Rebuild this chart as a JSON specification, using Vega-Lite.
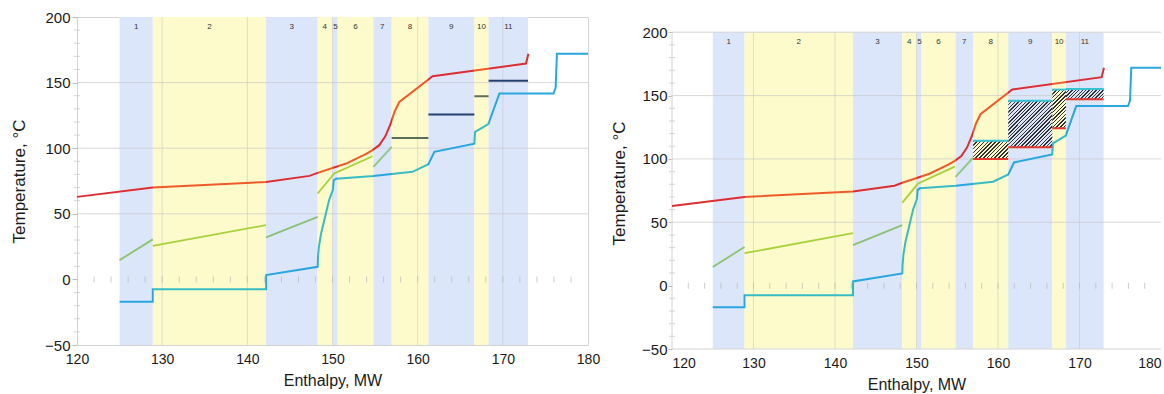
{
"$schema":"https://vega.github.io/schema/vega-lite/v6.json",
"padding":{"left":10,"top":9,"right":1,"bottom":1},
"spacing":9,
"config":{
 "font":"Liberation Sans",
 "view":{"stroke":"#d4d4d4","strokeWidth":1},
 "axis":{"labelFont":"Liberation Sans","titleFont":"Liberation Sans","labelColor":"#1a1a1a","titleColor":"#1a1a1a","titleFontWeight":"normal","domain":false,"grid":false,"tickColor":"#bdbdbd","labelOverlap":false},
 "axisX":{"labelFontSize":14,"titleFontSize":16,"tickSize":0,"labelPadding":7,"titlePadding":6},
 "axisY":{"labelFontSize":15,"titleFontSize":17,"labelPadding":2,"tickSize":5,"titlePadding":16}
},
"datasets":{
 "bands":[
  {"band":"1","x":125.0,"x2":128.9,"xm":126.95,"kind":"b"},
  {"band":"2","x":128.9,"x2":142.2,"xm":135.55,"kind":"y"},
  {"band":"3","x":142.2,"x2":148.25,"xm":145.2,"kind":"b"},
  {"band":"4","x":148.25,"x2":150.03,"xm":149.1,"kind":"y"},
  {"band":"5","x":150.03,"x2":150.6,"xm":150.35,"kind":"b"},
  {"band":"6","x":150.6,"x2":154.8,"xm":152.7,"kind":"y"},
  {"band":"7","x":154.8,"x2":156.95,"xm":155.85,"kind":"b"},
  {"band":"8","x":156.95,"x2":161.26,"xm":159.1,"kind":"y"},
  {"band":"9","x":161.26,"x2":166.66,"xm":163.95,"kind":"b"},
  {"band":"10","x":166.66,"x2":168.33,"xm":167.5,"kind":"y"},
  {"band":"11","x":168.33,"x2":172.96,"xm":170.65,"kind":"b"}
 ],
 "red":[
  {"i":0,"x":120,"t":62.9},{"i":1,"x":128.9,"t":70.0},{"i":2,"x":142.2,"t":74.3},{"i":3,"x":147.3,"t":78.9},
  {"i":4,"x":148.26,"t":81.2},{"i":5,"x":151.6,"t":88.3},{"i":6,"x":153.9,"t":95.5},{"i":7,"x":154.7,"t":98.5},
  {"i":8,"x":155.5,"t":102.3},{"i":9,"x":156.2,"t":109.0},{"i":10,"x":156.76,"t":117.5},{"i":11,"x":157.3,"t":128.0},
  {"i":12,"x":157.85,"t":135.3},{"i":13,"x":161.76,"t":154.8},{"i":14,"x":172.72,"t":164.5},{"i":15,"x":173.0,"t":172.0}
 ],
 "blue":[
  {"i":0,"x":125,"t":-17.0},{"i":1,"x":128.9,"t":-17.0},{"i":2,"x":128.9,"t":-7.6},{"i":3,"x":142.2,"t":-7.6},
  {"i":4,"x":142.2,"t":3.3},{"i":5,"x":148.26,"t":9.6},{"i":6,"x":148.3,"t":17.0},{"i":7,"x":148.4,"t":24.8},
  {"i":8,"x":148.66,"t":35.0},{"i":9,"x":149.6,"t":60.4},{"i":10,"x":150.03,"t":68.0},{"i":11,"x":150.14,"t":75.6},
  {"i":12,"x":150.42,"t":76.8},{"i":13,"x":154.8,"t":78.8},{"i":14,"x":159.4,"t":82.0},{"i":15,"x":161.26,"t":87.8},
  {"i":16,"x":161.96,"t":97.2},{"i":17,"x":166.66,"t":103.5},{"i":18,"x":166.74,"t":112.4},{"i":19,"x":167.3,"t":114.5},
  {"i":20,"x":168.3,"t":118.3},{"i":21,"x":169.6,"t":141.7},{"i":22,"x":175.95,"t":141.7},{"i":23,"x":176.2,"t":146.0},
  {"i":24,"x":176.35,"t":172.0},{"i":25,"x":180,"t":172.0}
 ],
 "green":[
  {"seg":"s1","x":125.0,"t":14.7},{"seg":"s1","x":128.9,"t":30.5},
  {"seg":"s2","x":128.9,"t":25.6},{"seg":"s2","x":142.2,"t":41.4},
  {"seg":"s3","x":142.2,"t":32.0},{"seg":"s3","x":148.26,"t":47.7},
  {"seg":"s4","x":148.26,"t":65.5},{"seg":"s4","x":150.2,"t":80.7},{"seg":"s4","x":154.7,"t":93.9},
  {"seg":"s5","x":154.8,"t":85.8},{"seg":"s5","x":156.95,"t":101.0}
 ],
 "bars":[
  {"x":156.95,"x2":161.26,"t":107.8,"c":"g"},
  {"x":161.26,"x2":166.66,"t":125.7,"c":"n"},
  {"x":166.66,"x2":168.33,"t":139.6,"c":"g"},
  {"x":168.33,"x2":172.96,"t":151.5,"c":"n"}
 ],
 "hatch":[
  {"band":8,"x":156.95,"x2":161.26,"lo":100.0,"hi":114.4},
  {"band":9,"x":161.26,"x2":166.66,"lo":109.2,"hi":146.0},
  {"band":10,"x":166.66,"x2":168.33,"lo":124.2,"hi":154.7},
  {"band":11,"x":168.33,"x2":172.96,"lo":147.0,"hi":155.2}
 ],
 "frame":[
  {"x":120,"x2":120,"t":-50,"t2":200},
  {"x":120,"x2":180,"t":200,"t2":200},
  {"x":120,"x2":180,"t":-50,"t2":-50}
 ],
 "gy":[{"t":50},{"t":100},{"t":150}],
 "gx":[{"x":130},{"x":140},{"x":150},{"x":160},{"x":170}],
 "ytk":[{"t":-40},{"t":-30},{"t":-20},{"t":-10},{"t":10},{"t":20},{"t":30},{"t":40},{"t":60},{"t":70},{"t":80},{"t":90},{"t":110},{"t":120},{"t":130},{"t":140},{"t":160},{"t":170},{"t":180},{"t":190}],
 "zt":[{"x":122},{"x":124},{"x":126},{"x":128},{"x":130},{"x":132},{"x":134},{"x":136},{"x":138},{"x":140},{"x":142},{"x":144},{"x":146},{"x":148},{"x":150},{"x":152},{"x":154},{"x":156},{"x":158},{"x":160},{"x":162},{"x":164},{"x":166},{"x":168},{"x":170},{"x":172},{"x":174},{"x":176},{"x":178}]
},
"hconcat":[
 {
  "width":511,"height":328,
  "resolve":{"scale":{"color":"independent"}},
  "layer":[
   {"data":{"name":"bands"},"mark":{"type":"rect"},
    "encoding":{
     "x":{"field":"x","type":"quantitative","scale":{"domain":[120,180],"nice":false,"zero":false},"title":"Enthalpy, MW","axis":{"values":[120,130,140,150,160,170,180],"labelFlush":false}},
     "x2":{"field":"x2"},
     "y":{"datum":200,"type":"quantitative","scale":{"domain":[-50,200],"nice":false,"zero":false},"title":"Temperature, °C","axis":{"values":[-50,0,50,100,150,200]}},
     "y2":{"datum":-50},
     "color":{"field":"kind","type":"nominal","scale":{"domain":["b","y"],"range":["#dce6fb","#fdfbcb"]},"legend":null}}},
   {"data":{"name":"gy"},"mark":{"type":"rule","color":"#c4c4c4","opacity":0.65,"strokeWidth":1},
    "encoding":{"y":{"field":"t","type":"quantitative","scale":{"domain":[-50,200],"nice":false,"zero":false},"title":"Temperature, °C"}}},
   {"data":{"name":"gx"},"mark":{"type":"rule","color":"#c4c4c4","opacity":0.55,"strokeWidth":1},
    "encoding":{"x":{"field":"x","type":"quantitative","scale":{"domain":[120,180],"nice":false,"zero":false},"title":"Enthalpy, MW"}}},
   {"mark":{"type":"rule","color":"#bcbcbc","strokeWidth":1},
    "encoding":{"y":{"datum":0,"type":"quantitative","scale":{"domain":[-50,200],"nice":false,"zero":false},"title":"Temperature, °C"}}},
   {"data":{"name":"bands"},"mark":{"type":"text","fontSize":8,"color":"#333333","font":"Liberation Sans"},
    "encoding":{
     "x":{"field":"xm","type":"quantitative","scale":{"domain":[120,180],"nice":false,"zero":false},"title":"Enthalpy, MW"},
     "y":{"datum":192,"type":"quantitative","scale":{"domain":[-50,200],"nice":false,"zero":false},"title":"Temperature, °C"},
     "text":{"field":"band"}}},
   {"data":{"name":"zt"},"mark":{"type":"tick","orient":"vertical","size":6,"thickness":1,"color":"#b8b8b8"},
    "encoding":{
     "x":{"field":"x","type":"quantitative","scale":{"domain":[120,180],"nice":false,"zero":false},"title":"Enthalpy, MW"},
     "y":{"datum":0,"type":"quantitative","scale":{"domain":[-50,200],"nice":false,"zero":false},"title":"Temperature, °C"}}},
   {"data":{"name":"ytk"},"mark":{"type":"tick","orient":"horizontal","size":6,"thickness":1,"color":"#c4c4c4"},
    "encoding":{
     "x":{"datum":120,"type":"quantitative","scale":{"domain":[120,180],"nice":false,"zero":false},"title":"Enthalpy, MW"},
     "y":{"field":"t","type":"quantitative","scale":{"domain":[-50,200],"nice":false,"zero":false},"title":"Temperature, °C"}}},
   {"data":{"name":"green"},"mark":{"type":"line","strokeWidth":1.8},
    "encoding":{
     "x":{"field":"x","type":"quantitative","scale":{"domain":[120,180],"nice":false,"zero":false},"title":"Enthalpy, MW"},
     "y":{"field":"t","type":"quantitative","scale":{"domain":[-50,200],"nice":false,"zero":false},"title":"Temperature, °C"},
     "color":{"field":"seg","type":"nominal","scale":{"domain":["s1","s2","s3","s4","s5"],"range":["#8cc46e","#a8d23c","#8cc075","#a6d03a","#8fc47e"]},"legend":null}}},
   {"data":{"name":"red"},"mark":{"type":"line","strokeWidth":2,"stroke":{"gradient":"linear","x1":0,"y1":0,"x2":1,"y2":0,"stops":[
     {"offset":0,"color":"#dc2e32"},{"offset":0.1679,"color":"#dc2e32"},{"offset":0.1679,"color":"#ef5a2a"},{"offset":0.4189,"color":"#ef5a2a"},
     {"offset":0.4189,"color":"#dc2e32"},{"offset":0.533,"color":"#dc2e32"},{"offset":0.533,"color":"#ef5a2a"},{"offset":0.5666,"color":"#ef5a2a"},
     {"offset":0.5666,"color":"#dc2e32"},{"offset":0.5774,"color":"#dc2e32"},{"offset":0.5774,"color":"#ef5a2a"},{"offset":0.6566,"color":"#ef5a2a"},
     {"offset":0.6566,"color":"#dc2e32"},{"offset":0.6972,"color":"#dc2e32"},{"offset":0.6972,"color":"#ef5a2a"},{"offset":0.7785,"color":"#ef5a2a"},
     {"offset":0.7785,"color":"#dc2e32"},{"offset":0.88,"color":"#dc2e32"},{"offset":0.88,"color":"#ef5a2a"},{"offset":0.9119,"color":"#ef5a2a"},
     {"offset":0.9119,"color":"#dc2e32"},{"offset":1,"color":"#dc2e32"}]}},
    "encoding":{
     "x":{"field":"x","type":"quantitative","scale":{"domain":[120,180],"nice":false,"zero":false},"title":"Enthalpy, MW"},
     "y":{"field":"t","type":"quantitative","scale":{"domain":[-50,200],"nice":false,"zero":false},"title":"Temperature, °C"},
     "order":{"field":"i"}}},
   {"data":{"name":"blue"},"mark":{"type":"line","strokeWidth":2,"stroke":{"gradient":"linear","x1":0,"y1":0,"x2":1,"y2":0,"stops":[
     {"offset":0,"color":"#29a6e0"},{"offset":0.0709,"color":"#29a6e0"},{"offset":0.0709,"color":"#38bcc4"},{"offset":0.3127,"color":"#38bcc4"},
     {"offset":0.3127,"color":"#29a6e0"},{"offset":0.4227,"color":"#29a6e0"},{"offset":0.4227,"color":"#38bcc4"},{"offset":0.4551,"color":"#38bcc4"},
     {"offset":0.4551,"color":"#29a6e0"},{"offset":0.4655,"color":"#29a6e0"},{"offset":0.4655,"color":"#38bcc4"},{"offset":0.5418,"color":"#38bcc4"},
     {"offset":0.5418,"color":"#29a6e0"},{"offset":0.5809,"color":"#29a6e0"},{"offset":0.5809,"color":"#38bcc4"},{"offset":0.6593,"color":"#38bcc4"},
     {"offset":0.6593,"color":"#29a6e0"},{"offset":0.7575,"color":"#29a6e0"},{"offset":0.7575,"color":"#38bcc4"},{"offset":0.7878,"color":"#38bcc4"},
     {"offset":0.7878,"color":"#29a6e0"},{"offset":1,"color":"#29a6e0"}]}},
    "encoding":{
     "x":{"field":"x","type":"quantitative","scale":{"domain":[120,180],"nice":false,"zero":false},"title":"Enthalpy, MW"},
     "y":{"field":"t","type":"quantitative","scale":{"domain":[-50,200],"nice":false,"zero":false},"title":"Temperature, °C"},
     "order":{"field":"i"}}},
   {"data":{"name":"bars"},"mark":{"type":"rule","strokeWidth":2},
    "encoding":{
     "x":{"field":"x","type":"quantitative","scale":{"domain":[120,180],"nice":false,"zero":false},"title":"Enthalpy, MW"},
     "x2":{"field":"x2"},
     "y":{"field":"t","type":"quantitative","scale":{"domain":[-50,200],"nice":false,"zero":false},"title":"Temperature, °C"},
     "color":{"field":"c","type":"nominal","scale":{"domain":["g","n"],"range":["#5d6e5c","#253f72"]},"legend":null}}}
  ]
 },
 {
  "width":489,"height":332,
  "view":{"stroke":null},
  "resolve":{"scale":{"color":"independent"}},
  "layer":[
   {"data":{"name":"bands"},"mark":{"type":"rect"},
    "encoding":{
     "x":{"field":"x","type":"quantitative","scale":{"domain":[120,180],"nice":false,"zero":false},"title":"Enthalpy, MW","axis":{"values":[120,130,140,150,160,170,180],"labelFlush":true}},
     "x2":{"field":"x2"},
     "y":{"datum":200,"type":"quantitative","scale":{"domain":[-50,212],"nice":false,"zero":false},"title":"Temperature, °C","axis":{"values":[-50,0,50,100,150,200],"tickSize":4,"labelPadding":1,"titlePadding":13}},
     "y2":{"datum":-50},
     "color":{"field":"kind","type":"nominal","scale":{"domain":["b","y"],"range":["#dce6fb","#fdfbcb"]},"legend":null}}},
   {"data":{"name":"gy"},"mark":{"type":"rule","color":"#c4c4c4","opacity":0.65,"strokeWidth":1},
    "encoding":{"y":{"field":"t","type":"quantitative","scale":{"domain":[-50,212],"nice":false,"zero":false},"title":"Temperature, °C"}}},
   {"data":{"name":"gx"},"mark":{"type":"rule","color":"#c4c4c4","opacity":0.55,"strokeWidth":1},
    "encoding":{
     "x":{"field":"x","type":"quantitative","scale":{"domain":[120,180],"nice":false,"zero":false},"title":"Enthalpy, MW"},
     "y":{"datum":-50,"type":"quantitative","scale":{"domain":[-50,212],"nice":false,"zero":false},"title":"Temperature, °C"},
     "y2":{"datum":200}}},
   {"data":{"name":"frame"},"mark":{"type":"rule","color":"#d4d4d4","strokeWidth":1},
    "encoding":{
     "x":{"field":"x","type":"quantitative","scale":{"domain":[120,180],"nice":false,"zero":false},"title":"Enthalpy, MW"},
     "x2":{"field":"x2"},
     "y":{"field":"t","type":"quantitative","scale":{"domain":[-50,212],"nice":false,"zero":false},"title":"Temperature, °C"},
     "y2":{"field":"t2"}}},
   {"mark":{"type":"rule","color":"#bcbcbc","strokeWidth":1},
    "encoding":{"y":{"datum":0,"type":"quantitative","scale":{"domain":[-50,212],"nice":false,"zero":false},"title":"Temperature, °C"}}},
   {"data":{"name":"bands"},"mark":{"type":"text","fontSize":8,"color":"#333333","font":"Liberation Sans"},
    "encoding":{
     "x":{"field":"xm","type":"quantitative","scale":{"domain":[120,180],"nice":false,"zero":false},"title":"Enthalpy, MW"},
     "y":{"datum":192,"type":"quantitative","scale":{"domain":[-50,212],"nice":false,"zero":false},"title":"Temperature, °C"},
     "text":{"field":"band"}}},
   {"data":{"name":"zt"},"mark":{"type":"tick","orient":"vertical","size":6,"thickness":1,"color":"#b8b8b8"},
    "encoding":{
     "x":{"field":"x","type":"quantitative","scale":{"domain":[120,180],"nice":false,"zero":false},"title":"Enthalpy, MW"},
     "y":{"datum":0,"type":"quantitative","scale":{"domain":[-50,212],"nice":false,"zero":false},"title":"Temperature, °C"}}},
   {"data":{"name":"ytk"},"mark":{"type":"tick","orient":"horizontal","size":6,"thickness":1,"color":"#c4c4c4"},
    "encoding":{
     "x":{"datum":120,"type":"quantitative","scale":{"domain":[120,180],"nice":false,"zero":false},"title":"Enthalpy, MW"},
     "y":{"field":"t","type":"quantitative","scale":{"domain":[-50,212],"nice":false,"zero":false},"title":"Temperature, °C"}}},
   {"data":{"name":"hatch"},"transform":[{"filter":"datum.band == 8"}],
    "mark":{"type":"rect","fill":{"gradient":"linear","x1":0,"y1":0,"x2":1.197,"y2":0.622,"stops":[
     {"offset":0,"color":"#303030"},{"offset":0.0286,"color":"#303030"},{"offset":0.0286,"color":"rgba(255,255,255,0)"},{"offset":0.0714,"color":"rgba(255,255,255,0)"},
     {"offset":0.0714,"color":"#303030"},{"offset":0.1,"color":"#303030"},{"offset":0.1,"color":"rgba(255,255,255,0)"},{"offset":0.1429,"color":"rgba(255,255,255,0)"},
     {"offset":0.1429,"color":"#303030"},{"offset":0.1714,"color":"#303030"},{"offset":0.1714,"color":"rgba(255,255,255,0)"},{"offset":0.2143,"color":"rgba(255,255,255,0)"},
     {"offset":0.2143,"color":"#303030"},{"offset":0.2429,"color":"#303030"},{"offset":0.2429,"color":"rgba(255,255,255,0)"},{"offset":0.2857,"color":"rgba(255,255,255,0)"},
     {"offset":0.2857,"color":"#303030"},{"offset":0.3143,"color":"#303030"},{"offset":0.3143,"color":"rgba(255,255,255,0)"},{"offset":0.3571,"color":"rgba(255,255,255,0)"},
     {"offset":0.3571,"color":"#303030"},{"offset":0.3857,"color":"#303030"},{"offset":0.3857,"color":"rgba(255,255,255,0)"},{"offset":0.4286,"color":"rgba(255,255,255,0)"},
     {"offset":0.4286,"color":"#303030"},{"offset":0.4571,"color":"#303030"},{"offset":0.4571,"color":"rgba(255,255,255,0)"},{"offset":0.5,"color":"rgba(255,255,255,0)"},
     {"offset":0.5,"color":"#303030"},{"offset":0.5286,"color":"#303030"},{"offset":0.5286,"color":"rgba(255,255,255,0)"},{"offset":0.5714,"color":"rgba(255,255,255,0)"},
     {"offset":0.5714,"color":"#303030"},{"offset":0.6,"color":"#303030"},{"offset":0.6,"color":"rgba(255,255,255,0)"},{"offset":0.6429,"color":"rgba(255,255,255,0)"},
     {"offset":0.6429,"color":"#303030"},{"offset":0.6714,"color":"#303030"},{"offset":0.6714,"color":"rgba(255,255,255,0)"},{"offset":0.7143,"color":"rgba(255,255,255,0)"},
     {"offset":0.7143,"color":"#303030"},{"offset":0.7429,"color":"#303030"},{"offset":0.7429,"color":"rgba(255,255,255,0)"},{"offset":0.7857,"color":"rgba(255,255,255,0)"},
     {"offset":0.7857,"color":"#303030"},{"offset":0.8143,"color":"#303030"},{"offset":0.8143,"color":"rgba(255,255,255,0)"},{"offset":0.8571,"color":"rgba(255,255,255,0)"},
     {"offset":0.8571,"color":"#303030"},{"offset":0.8857,"color":"#303030"},{"offset":0.8857,"color":"rgba(255,255,255,0)"},{"offset":0.9286,"color":"rgba(255,255,255,0)"},
     {"offset":0.9286,"color":"#303030"},{"offset":0.9571,"color":"#303030"},{"offset":0.9571,"color":"rgba(255,255,255,0)"},{"offset":1,"color":"rgba(255,255,255,0)"}]}},
    "encoding":{
     "x":{"field":"x","type":"quantitative","scale":{"domain":[120,180],"nice":false,"zero":false},"title":"Enthalpy, MW"},
     "x2":{"field":"x2"},
     "y":{"field":"lo","type":"quantitative","scale":{"domain":[-50,212],"nice":false,"zero":false},"title":"Temperature, °C"},
     "y2":{"field":"hi"}}},
   {"data":{"name":"hatch"},"transform":[{"filter":"datum.band == 9"}],
    "mark":{"type":"rect","fill":{"gradient":"linear","x1":0,"y1":0,"x2":0.971,"y2":1.028,"stops":[
     {"offset":0,"color":"#303030"},{"offset":0.016,"color":"#303030"},{"offset":0.016,"color":"rgba(255,255,255,0)"},{"offset":0.04,"color":"rgba(255,255,255,0)"},
     {"offset":0.04,"color":"#303030"},{"offset":0.056,"color":"#303030"},{"offset":0.056,"color":"rgba(255,255,255,0)"},{"offset":0.08,"color":"rgba(255,255,255,0)"},
     {"offset":0.08,"color":"#303030"},{"offset":0.096,"color":"#303030"},{"offset":0.096,"color":"rgba(255,255,255,0)"},{"offset":0.12,"color":"rgba(255,255,255,0)"},
     {"offset":0.12,"color":"#303030"},{"offset":0.136,"color":"#303030"},{"offset":0.136,"color":"rgba(255,255,255,0)"},{"offset":0.16,"color":"rgba(255,255,255,0)"},
     {"offset":0.16,"color":"#303030"},{"offset":0.176,"color":"#303030"},{"offset":0.176,"color":"rgba(255,255,255,0)"},{"offset":0.2,"color":"rgba(255,255,255,0)"},
     {"offset":0.2,"color":"#303030"},{"offset":0.216,"color":"#303030"},{"offset":0.216,"color":"rgba(255,255,255,0)"},{"offset":0.24,"color":"rgba(255,255,255,0)"},
     {"offset":0.24,"color":"#303030"},{"offset":0.256,"color":"#303030"},{"offset":0.256,"color":"rgba(255,255,255,0)"},{"offset":0.28,"color":"rgba(255,255,255,0)"},
     {"offset":0.28,"color":"#303030"},{"offset":0.296,"color":"#303030"},{"offset":0.296,"color":"rgba(255,255,255,0)"},{"offset":0.32,"color":"rgba(255,255,255,0)"},
     {"offset":0.32,"color":"#303030"},{"offset":0.336,"color":"#303030"},{"offset":0.336,"color":"rgba(255,255,255,0)"},{"offset":0.36,"color":"rgba(255,255,255,0)"},
     {"offset":0.36,"color":"#303030"},{"offset":0.376,"color":"#303030"},{"offset":0.376,"color":"rgba(255,255,255,0)"},{"offset":0.4,"color":"rgba(255,255,255,0)"},
     {"offset":0.4,"color":"#303030"},{"offset":0.416,"color":"#303030"},{"offset":0.416,"color":"rgba(255,255,255,0)"},{"offset":0.44,"color":"rgba(255,255,255,0)"},
     {"offset":0.44,"color":"#303030"},{"offset":0.456,"color":"#303030"},{"offset":0.456,"color":"rgba(255,255,255,0)"},{"offset":0.48,"color":"rgba(255,255,255,0)"},
     {"offset":0.48,"color":"#303030"},{"offset":0.496,"color":"#303030"},{"offset":0.496,"color":"rgba(255,255,255,0)"},{"offset":0.52,"color":"rgba(255,255,255,0)"},
     {"offset":0.52,"color":"#303030"},{"offset":0.536,"color":"#303030"},{"offset":0.536,"color":"rgba(255,255,255,0)"},{"offset":0.56,"color":"rgba(255,255,255,0)"},
     {"offset":0.56,"color":"#303030"},{"offset":0.576,"color":"#303030"},{"offset":0.576,"color":"rgba(255,255,255,0)"},{"offset":0.6,"color":"rgba(255,255,255,0)"},
     {"offset":0.6,"color":"#303030"},{"offset":0.616,"color":"#303030"},{"offset":0.616,"color":"rgba(255,255,255,0)"},{"offset":0.64,"color":"rgba(255,255,255,0)"},
     {"offset":0.64,"color":"#303030"},{"offset":0.656,"color":"#303030"},{"offset":0.656,"color":"rgba(255,255,255,0)"},{"offset":0.68,"color":"rgba(255,255,255,0)"},
     {"offset":0.68,"color":"#303030"},{"offset":0.696,"color":"#303030"},{"offset":0.696,"color":"rgba(255,255,255,0)"},{"offset":0.72,"color":"rgba(255,255,255,0)"},
     {"offset":0.72,"color":"#303030"},{"offset":0.736,"color":"#303030"},{"offset":0.736,"color":"rgba(255,255,255,0)"},{"offset":0.76,"color":"rgba(255,255,255,0)"},
     {"offset":0.76,"color":"#303030"},{"offset":0.776,"color":"#303030"},{"offset":0.776,"color":"rgba(255,255,255,0)"},{"offset":0.8,"color":"rgba(255,255,255,0)"},
     {"offset":0.8,"color":"#303030"},{"offset":0.816,"color":"#303030"},{"offset":0.816,"color":"rgba(255,255,255,0)"},{"offset":0.84,"color":"rgba(255,255,255,0)"},
     {"offset":0.84,"color":"#303030"},{"offset":0.856,"color":"#303030"},{"offset":0.856,"color":"rgba(255,255,255,0)"},{"offset":0.88,"color":"rgba(255,255,255,0)"},
     {"offset":0.88,"color":"#303030"},{"offset":0.896,"color":"#303030"},{"offset":0.896,"color":"rgba(255,255,255,0)"},{"offset":0.92,"color":"rgba(255,255,255,0)"},
     {"offset":0.92,"color":"#303030"},{"offset":0.936,"color":"#303030"},{"offset":0.936,"color":"rgba(255,255,255,0)"},{"offset":0.96,"color":"rgba(255,255,255,0)"},
     {"offset":0.96,"color":"#303030"},{"offset":0.976,"color":"#303030"},{"offset":0.976,"color":"rgba(255,255,255,0)"},{"offset":1,"color":"rgba(255,255,255,0)"}]}},
    "encoding":{
     "x":{"field":"x","type":"quantitative","scale":{"domain":[120,180],"nice":false,"zero":false},"title":"Enthalpy, MW"},
     "x2":{"field":"x2"},
     "y":{"field":"lo","type":"quantitative","scale":{"domain":[-50,212],"nice":false,"zero":false},"title":"Temperature, °C"},
     "y2":{"field":"hi"}}},
   {"data":{"name":"hatch"},"transform":[{"filter":"datum.band == 10"}],
    "mark":{"type":"rect","fill":{"gradient":"linear","x1":0,"y1":0,"x2":0.424,"y2":1.203,"stops":[
     {"offset":0,"color":"#303030"},{"offset":0.0286,"color":"#303030"},{"offset":0.0286,"color":"rgba(255,255,255,0)"},{"offset":0.0714,"color":"rgba(255,255,255,0)"},
     {"offset":0.0714,"color":"#303030"},{"offset":0.1,"color":"#303030"},{"offset":0.1,"color":"rgba(255,255,255,0)"},{"offset":0.1429,"color":"rgba(255,255,255,0)"},
     {"offset":0.1429,"color":"#303030"},{"offset":0.1714,"color":"#303030"},{"offset":0.1714,"color":"rgba(255,255,255,0)"},{"offset":0.2143,"color":"rgba(255,255,255,0)"},
     {"offset":0.2143,"color":"#303030"},{"offset":0.2429,"color":"#303030"},{"offset":0.2429,"color":"rgba(255,255,255,0)"},{"offset":0.2857,"color":"rgba(255,255,255,0)"},
     {"offset":0.2857,"color":"#303030"},{"offset":0.3143,"color":"#303030"},{"offset":0.3143,"color":"rgba(255,255,255,0)"},{"offset":0.3571,"color":"rgba(255,255,255,0)"},
     {"offset":0.3571,"color":"#303030"},{"offset":0.3857,"color":"#303030"},{"offset":0.3857,"color":"rgba(255,255,255,0)"},{"offset":0.4286,"color":"rgba(255,255,255,0)"},
     {"offset":0.4286,"color":"#303030"},{"offset":0.4571,"color":"#303030"},{"offset":0.4571,"color":"rgba(255,255,255,0)"},{"offset":0.5,"color":"rgba(255,255,255,0)"},
     {"offset":0.5,"color":"#303030"},{"offset":0.5286,"color":"#303030"},{"offset":0.5286,"color":"rgba(255,255,255,0)"},{"offset":0.5714,"color":"rgba(255,255,255,0)"},
     {"offset":0.5714,"color":"#303030"},{"offset":0.6,"color":"#303030"},{"offset":0.6,"color":"rgba(255,255,255,0)"},{"offset":0.6429,"color":"rgba(255,255,255,0)"},
     {"offset":0.6429,"color":"#303030"},{"offset":0.6714,"color":"#303030"},{"offset":0.6714,"color":"rgba(255,255,255,0)"},{"offset":0.7143,"color":"rgba(255,255,255,0)"},
     {"offset":0.7143,"color":"#303030"},{"offset":0.7429,"color":"#303030"},{"offset":0.7429,"color":"rgba(255,255,255,0)"},{"offset":0.7857,"color":"rgba(255,255,255,0)"},
     {"offset":0.7857,"color":"#303030"},{"offset":0.8143,"color":"#303030"},{"offset":0.8143,"color":"rgba(255,255,255,0)"},{"offset":0.8571,"color":"rgba(255,255,255,0)"},
     {"offset":0.8571,"color":"#303030"},{"offset":0.8857,"color":"#303030"},{"offset":0.8857,"color":"rgba(255,255,255,0)"},{"offset":0.9286,"color":"rgba(255,255,255,0)"},
     {"offset":0.9286,"color":"#303030"},{"offset":0.9571,"color":"#303030"},{"offset":0.9571,"color":"rgba(255,255,255,0)"},{"offset":1,"color":"rgba(255,255,255,0)"}]}},
    "encoding":{
     "x":{"field":"x","type":"quantitative","scale":{"domain":[120,180],"nice":false,"zero":false},"title":"Enthalpy, MW"},
     "x2":{"field":"x2"},
     "y":{"field":"lo","type":"quantitative","scale":{"domain":[-50,212],"nice":false,"zero":false},"title":"Temperature, °C"},
     "y2":{"field":"hi"}}},
   {"data":{"name":"hatch"},"transform":[{"filter":"datum.band == 11"}],
    "mark":{"type":"rect","fill":{"gradient":"linear","x1":0,"y1":0,"x2":1.186,"y2":0.327,"stops":[
     {"offset":0,"color":"#303030"},{"offset":0.0286,"color":"#303030"},{"offset":0.0286,"color":"rgba(255,255,255,0)"},{"offset":0.0714,"color":"rgba(255,255,255,0)"},
     {"offset":0.0714,"color":"#303030"},{"offset":0.1,"color":"#303030"},{"offset":0.1,"color":"rgba(255,255,255,0)"},{"offset":0.1429,"color":"rgba(255,255,255,0)"},
     {"offset":0.1429,"color":"#303030"},{"offset":0.1714,"color":"#303030"},{"offset":0.1714,"color":"rgba(255,255,255,0)"},{"offset":0.2143,"color":"rgba(255,255,255,0)"},
     {"offset":0.2143,"color":"#303030"},{"offset":0.2429,"color":"#303030"},{"offset":0.2429,"color":"rgba(255,255,255,0)"},{"offset":0.2857,"color":"rgba(255,255,255,0)"},
     {"offset":0.2857,"color":"#303030"},{"offset":0.3143,"color":"#303030"},{"offset":0.3143,"color":"rgba(255,255,255,0)"},{"offset":0.3571,"color":"rgba(255,255,255,0)"},
     {"offset":0.3571,"color":"#303030"},{"offset":0.3857,"color":"#303030"},{"offset":0.3857,"color":"rgba(255,255,255,0)"},{"offset":0.4286,"color":"rgba(255,255,255,0)"},
     {"offset":0.4286,"color":"#303030"},{"offset":0.4571,"color":"#303030"},{"offset":0.4571,"color":"rgba(255,255,255,0)"},{"offset":0.5,"color":"rgba(255,255,255,0)"},
     {"offset":0.5,"color":"#303030"},{"offset":0.5286,"color":"#303030"},{"offset":0.5286,"color":"rgba(255,255,255,0)"},{"offset":0.5714,"color":"rgba(255,255,255,0)"},
     {"offset":0.5714,"color":"#303030"},{"offset":0.6,"color":"#303030"},{"offset":0.6,"color":"rgba(255,255,255,0)"},{"offset":0.6429,"color":"rgba(255,255,255,0)"},
     {"offset":0.6429,"color":"#303030"},{"offset":0.6714,"color":"#303030"},{"offset":0.6714,"color":"rgba(255,255,255,0)"},{"offset":0.7143,"color":"rgba(255,255,255,0)"},
     {"offset":0.7143,"color":"#303030"},{"offset":0.7429,"color":"#303030"},{"offset":0.7429,"color":"rgba(255,255,255,0)"},{"offset":0.7857,"color":"rgba(255,255,255,0)"},
     {"offset":0.7857,"color":"#303030"},{"offset":0.8143,"color":"#303030"},{"offset":0.8143,"color":"rgba(255,255,255,0)"},{"offset":0.8571,"color":"rgba(255,255,255,0)"},
     {"offset":0.8571,"color":"#303030"},{"offset":0.8857,"color":"#303030"},{"offset":0.8857,"color":"rgba(255,255,255,0)"},{"offset":0.9286,"color":"rgba(255,255,255,0)"},
     {"offset":0.9286,"color":"#303030"},{"offset":0.9571,"color":"#303030"},{"offset":0.9571,"color":"rgba(255,255,255,0)"},{"offset":1,"color":"rgba(255,255,255,0)"}]}},
    "encoding":{
     "x":{"field":"x","type":"quantitative","scale":{"domain":[120,180],"nice":false,"zero":false},"title":"Enthalpy, MW"},
     "x2":{"field":"x2"},
     "y":{"field":"lo","type":"quantitative","scale":{"domain":[-50,212],"nice":false,"zero":false},"title":"Temperature, °C"},
     "y2":{"field":"hi"}}},
   {"data":{"name":"green"},"mark":{"type":"line","strokeWidth":1.8},
    "encoding":{
     "x":{"field":"x","type":"quantitative","scale":{"domain":[120,180],"nice":false,"zero":false},"title":"Enthalpy, MW"},
     "y":{"field":"t","type":"quantitative","scale":{"domain":[-50,212],"nice":false,"zero":false},"title":"Temperature, °C"},
     "color":{"field":"seg","type":"nominal","scale":{"domain":["s1","s2","s3","s4","s5"],"range":["#8cc46e","#a8d23c","#8cc075","#a6d03a","#8fc47e"]},"legend":null}}},
   {"data":{"name":"red"},"mark":{"type":"line","strokeWidth":2,"stroke":{"gradient":"linear","x1":0,"y1":0,"x2":1,"y2":0,"stops":[
     {"offset":0,"color":"#dc2e32"},{"offset":0.1679,"color":"#dc2e32"},{"offset":0.1679,"color":"#ef5a2a"},{"offset":0.4189,"color":"#ef5a2a"},
     {"offset":0.4189,"color":"#dc2e32"},{"offset":0.533,"color":"#dc2e32"},{"offset":0.533,"color":"#ef5a2a"},{"offset":0.5666,"color":"#ef5a2a"},
     {"offset":0.5666,"color":"#dc2e32"},{"offset":0.5774,"color":"#dc2e32"},{"offset":0.5774,"color":"#ef5a2a"},{"offset":0.6566,"color":"#ef5a2a"},
     {"offset":0.6566,"color":"#dc2e32"},{"offset":0.6972,"color":"#dc2e32"},{"offset":0.6972,"color":"#ef5a2a"},{"offset":0.7785,"color":"#ef5a2a"},
     {"offset":0.7785,"color":"#dc2e32"},{"offset":0.88,"color":"#dc2e32"},{"offset":0.88,"color":"#ef5a2a"},{"offset":0.9119,"color":"#ef5a2a"},
     {"offset":0.9119,"color":"#dc2e32"},{"offset":1,"color":"#dc2e32"}]}},
    "encoding":{
     "x":{"field":"x","type":"quantitative","scale":{"domain":[120,180],"nice":false,"zero":false},"title":"Enthalpy, MW"},
     "y":{"field":"t","type":"quantitative","scale":{"domain":[-50,212],"nice":false,"zero":false},"title":"Temperature, °C"},
     "order":{"field":"i"}}},
   {"data":{"name":"blue"},"mark":{"type":"line","strokeWidth":2,"stroke":{"gradient":"linear","x1":0,"y1":0,"x2":1,"y2":0,"stops":[
     {"offset":0,"color":"#29a6e0"},{"offset":0.0709,"color":"#29a6e0"},{"offset":0.0709,"color":"#38bcc4"},{"offset":0.3127,"color":"#38bcc4"},
     {"offset":0.3127,"color":"#29a6e0"},{"offset":0.4227,"color":"#29a6e0"},{"offset":0.4227,"color":"#38bcc4"},{"offset":0.4551,"color":"#38bcc4"},
     {"offset":0.4551,"color":"#29a6e0"},{"offset":0.4655,"color":"#29a6e0"},{"offset":0.4655,"color":"#38bcc4"},{"offset":0.5418,"color":"#38bcc4"},
     {"offset":0.5418,"color":"#29a6e0"},{"offset":0.5809,"color":"#29a6e0"},{"offset":0.5809,"color":"#38bcc4"},{"offset":0.6593,"color":"#38bcc4"},
     {"offset":0.6593,"color":"#29a6e0"},{"offset":0.7575,"color":"#29a6e0"},{"offset":0.7575,"color":"#38bcc4"},{"offset":0.7878,"color":"#38bcc4"},
     {"offset":0.7878,"color":"#29a6e0"},{"offset":1,"color":"#29a6e0"}]}},
    "encoding":{
     "x":{"field":"x","type":"quantitative","scale":{"domain":[120,180],"nice":false,"zero":false},"title":"Enthalpy, MW"},
     "y":{"field":"t","type":"quantitative","scale":{"domain":[-50,212],"nice":false,"zero":false},"title":"Temperature, °C"},
     "order":{"field":"i"}}},
   {"data":{"name":"hatch"},"mark":{"type":"rule","strokeWidth":2,"color":"#35c2d2"},
    "encoding":{
     "x":{"field":"x","type":"quantitative","scale":{"domain":[120,180],"nice":false,"zero":false},"title":"Enthalpy, MW"},
     "x2":{"field":"x2"},
     "y":{"field":"hi","type":"quantitative","scale":{"domain":[-50,212],"nice":false,"zero":false},"title":"Temperature, °C"}}},
   {"data":{"name":"hatch"},"mark":{"type":"rule","strokeWidth":2,"color":"#e3382d"},
    "encoding":{
     "x":{"field":"x","type":"quantitative","scale":{"domain":[120,180],"nice":false,"zero":false},"title":"Enthalpy, MW"},
     "x2":{"field":"x2"},
     "y":{"field":"lo","type":"quantitative","scale":{"domain":[-50,212],"nice":false,"zero":false},"title":"Temperature, °C"}}}
  ]
 }
]
}
